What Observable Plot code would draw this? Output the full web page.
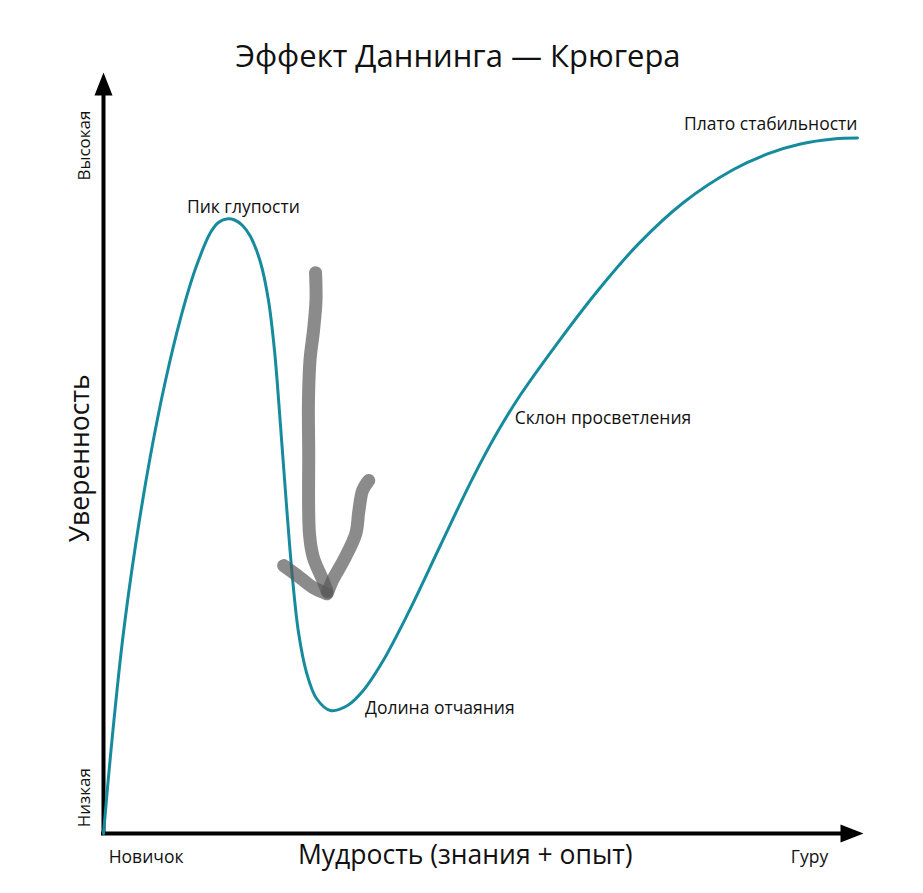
<!DOCTYPE html>
<html>
<head>
<meta charset="utf-8">
<script src="https://cdn.jsdelivr.net/npm/d3@7"></script>
<script src="https://cdn.jsdelivr.net/npm/@observablehq/plot@0.6"></script>
<style>
  body { margin: 0; background: #fff; font-family: "Open Sans", sans-serif; }
  #title { position: relative; height: 60px; width: 923px; }
  #title span { position: absolute; left: 0; width: 916px; top: 40px; line-height: 31px; font-size: 31px; text-align: center; color: #111; white-space: nowrap; }
</style>
</head>
<body>
<div id="title"><span>Эффект Даннинга — Крюгера</span></div>
<div id="chart"></div>
<script>
// Curve: wisdom (x, 0..100) vs confidence (y, 0..100)
const curveX = [0, 0.92, 2.50, 4.21, 6.18, 8.16, 10.13, 12.11, 14.08, 15.13, 16.18, 17.24, 18.29, 19.34, 20.66, 21.71, 22.50, 23.29, 24.08, 24.87, 25.66, 26.71, 28.03, 29.87, 32.11, 34.21, 36.71, 40.13, 44.34, 48.55, 51.84, 54.87, 59.74, 65.0, 70.39, 76.32, 82.89, 87.37, 91.71, 96.05, 99.21];
const curveY = [0, 10.25, 25.36, 37.84, 49.67, 59.53, 67.67, 74.24, 78.97, 80.29, 80.75, 80.62, 79.90, 78.45, 75.03, 70.04, 63.47, 53.61, 43.10, 33.51, 26.41, 21.16, 17.74, 16.16, 16.82, 18.82, 22.56, 29.05, 37.88, 46.64, 52.75, 57.65, 64.45, 71.29, 77.48, 82.92, 87.25, 89.30, 90.60, 91.26, 91.38];

// Hand-drawn arrow strokes
const arrowStroke = ["s","s","s","s","s","s","s","s","s","s", "l","l","l","l", "r","r","r","r","r","r","r"];
const arrowX = [27.9, 27.96, 27.63, 27.17, 26.97, 27.0, 27.1, 27.6, 28.9, 29.4,  23.7, 25.5, 27.6, 29.4,  34.9, 34.1, 33.6, 33.2, 31.6, 30.1, 29.5];
const arrowY = [73.7, 70.0, 66.1, 62.2, 56.9, 50.3, 39.4, 36.3, 33.2, 31.9,  35.2, 33.9, 32.3, 31.5,  46.4, 45.1, 42.4, 39.4, 35.9, 33.2, 31.7];

// Curve annotations
const peakNote = ["Пик глупости"];
const peakX = [18.4], peakY = [82.3];
const plateauNote = ["Плато стабильности"];
const plateauX = [99.2], plateauY = [93.2];
const sideNotes = ["Склон просветления", "Долина отчаяния"];
const sideX = [54.1, 34.4], sideY = [54.5, 16.4];

// Axis end labels
const xTickLabels = ["Новичок", "Гуру"];
const xTickPos = [5.6, 92.9];
const yTickLabels = ["Высокая", "Низкая"];
const yTickPos = [90.4, 4.7];

const xTitle = "Мудрость (знания + опыт)";
const yTitle = "Уверенность";

const curve = curveX.map((x, i) => ({x, y: curveY[i]}));
const arrow = arrowX.map((x, i) => ({x, y: arrowY[i], s: arrowStroke[i]}));

const triRight = {draw(ctx) { ctx.moveTo(0, 0); ctx.lineTo(-23, -9); ctx.lineTo(-23, 9); ctx.closePath(); }};
const triUp = {draw(ctx) { ctx.moveTo(0, 0); ctx.lineTo(-9, 23); ctx.lineTo(9, 23); ctx.closePath(); }};

const lab = {fontSize: 17.5, fill: "#111"};

const chart = Plot.plot({
  width: 923,
  height: 833,
  marginLeft: 103,
  marginRight: 60,
  marginTop: 12,
  marginBottom: 60,
  x: {domain: [0, 100], axis: null},
  y: {domain: [0, 100], axis: null},
  style: {fontFamily: "Open Sans", background: "transparent", overflow: "visible", color: "#111"},
  marks: [
    Plot.ruleY([0], {x1: 0, x2: 98, stroke: "black", strokeWidth: 4, strokeLinecap: "square"}),
    Plot.ruleX([0], {y1: 0, y2: 98, stroke: "black", strokeWidth: 4, strokeLinecap: "square"}),
    Plot.dot([{x: 100, y: 0}], {x: "x", y: "y", symbol: triRight, fill: "black", r: 5}),
    Plot.dot([{x: 0, y: 100}], {x: "x", y: "y", symbol: triUp, fill: "black", r: 5}),
    Plot.line(curve, {x: "x", y: "y", stroke: "#168b9d", strokeWidth: 3, curve: "catmull-rom"}),
    Plot.line(arrow, {x: "x", y: "y", z: "s", stroke: "#5a5a5a", strokeOpacity: 0.7, strokeWidth: 13, strokeLinecap: "round", strokeLinejoin: "round", curve: "catmull-rom"}),
    Plot.text(peakNote, {x: (d, i) => peakX[i], y: (d, i) => peakY[i], text: d => d, textAnchor: "middle", ...lab}),
    Plot.text(plateauNote, {x: (d, i) => plateauX[i], y: (d, i) => plateauY[i], text: d => d, textAnchor: "end", ...lab}),
    Plot.text(sideNotes, {x: (d, i) => sideX[i], y: (d, i) => sideY[i], text: d => d, textAnchor: "start", ...lab}),
    Plot.text(xTickLabels, {x: (d, i) => xTickPos[i], y: -3.2, text: d => d, ...lab}),
    Plot.text(yTickLabels, {x: -2.5, y: (d, i) => yTickPos[i], text: d => d, rotate: -90, fontSize: 17, fill: "#111"}),
    Plot.text([xTitle], {x: 47.6, y: -2.9, text: d => d, fontSize: 26.5, fill: "#111"}),
    Plot.text([yTitle], {x: -3.0, y: 49.3, text: d => d, rotate: -90, fontSize: 26.5, fill: "#111"})
  ]
});
document.getElementById("chart").appendChild(chart);
</script>
</body>
</html>
